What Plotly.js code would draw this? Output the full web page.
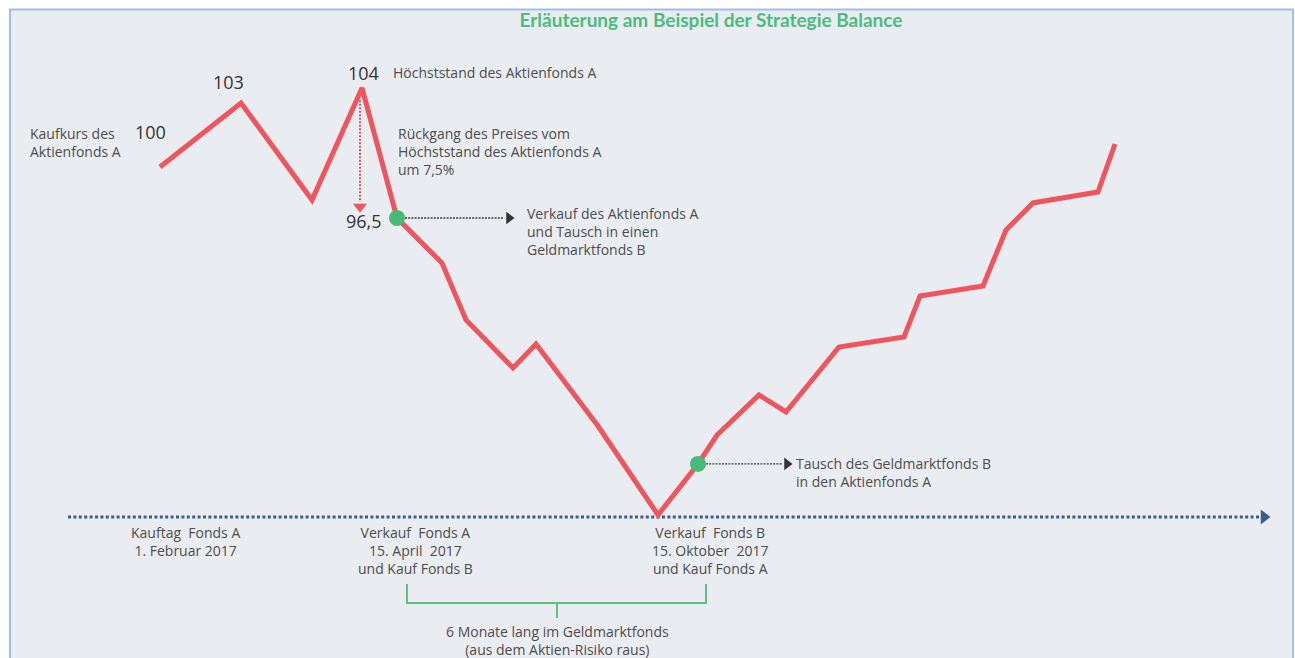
<!DOCTYPE html>
<html>
<head>
<meta charset="utf-8">
<script src="https://cdn.plot.ly/plotly-3.0.1.min.js"></script>
<style>html,body{margin:0;padding:0;background:#fff;}#chart{width:1295px;height:658px;}</style>
</head>
<body>
<div id="chart"></div>
<script>
// Illustrative time steps (arbitrary units) and fund price of Aktienfonds A
const timeSteps = [0, 8.1, 15.2, 20.2, 23.7, 28.2, 30.6, 35.3, 37.6, 43.8, 49.8, 53.8, 55.7, 59.9, 62.6, 67.9, 74.4, 76.0, 82.3, 84.6, 87.3, 93.8, 95.5];
const fundPrice = [99.44, 103.13, 97.54, 104, 96.5, 93.9, 90.62, 87.85, 89.23, 84.5, 79.37, 82.31, 83.98, 86.29, 85.31, 89.06, 89.63, 92.0, 92.58, 95.81, 97.37, 98.0, 100.77];
const sellIndex = 4;   // Verkauf Fonds A (96,5)
const buyIndex = 11;   // Tausch zurück in Fonds A
const peakIndex = 3;

const titleText = 'Erläuterung am Beispiel der Strategie Balance';
const priceLabels = ['100', '103', '104', '96,5'];
const dateLabels = [
  'Kauftag  Fonds A<br>1. Februar 2017',
  'Verkauf  Fonds A<br>15. April  2017<br>und Kauf Fonds B',
  'Verkauf  Fonds B<br>15. Oktober  2017<br>und Kauf Fonds A'
];
const dateLabelX = [2.5, 25.5, 55.0];
const axisLevel = 79.25, axisStart = -9.2, axisEnd = 110.4;
const bracketX = [24.7, 39.7, 54.6];
const bracketY = [75.38, 74.29, 73.42];

const RED = '#f0545c', GREEN = '#46bb79', TXT = '#4d4d4d', NUM = '#333333', AXIS = '#3d5b92';
const FONT = 'Open Sans, sans-serif';

const traces = [];
// dotted time axis
traces.push({x:[axisStart, axisEnd], y:[axisLevel, axisLevel], mode:'lines',
  line:{color:AXIS, width:3, dash:'3px,2.4px'}, hoverinfo:'skip'});
traces.push({x:[axisEnd], y:[axisLevel], mode:'markers',
  marker:{symbol:'triangle-right', size:13, color:AXIS}, hoverinfo:'skip'});
// bracket
traces.push({x:[bracketX[0], bracketX[0], bracketX[1], bracketX[1], bracketX[1], bracketX[2], bracketX[2]],
  y:[bracketY[0], bracketY[1], bracketY[1], bracketY[2], bracketY[1], bracketY[1], bracketY[0]],
  mode:'lines', line:{color:'#5cc17f', width:2}, hoverinfo:'skip'});
// red vertical dotted arrow (peak -> 96,5)
const vx = timeSteps[peakIndex] - 0.2;
traces.push({x:[vx, vx], y:[fundPrice[peakIndex]-0.7, fundPrice[sellIndex]+1.0], mode:'lines',
  line:{color:RED, width:2, dash:'2px,1.5px'}, hoverinfo:'skip'});
traces.push({x:[vx], y:[fundPrice[sellIndex]+0.65], mode:'markers',
  marker:{symbol:'triangle-down', size:12, color:RED}, hoverinfo:'skip'});
// black dotted arrows from green dots
function hArrow(i, tipX){
  traces.push({x:[timeSteps[i]+0.8, tipX-1.0], y:[fundPrice[i], fundPrice[i]], mode:'lines',
    line:{color:'#3a3a3a', width:1.3, dash:'2px,1.2px'}, hoverinfo:'skip'});
  traces.push({x:[tipX-0.5], y:[fundPrice[i]], mode:'markers',
    marker:{symbol:'triangle-right', size:11, color:'#333'}, hoverinfo:'skip'});
}
hArrow(sellIndex, 35.4);
hArrow(buyIndex, 63.2);
// price line
traces.push({x:timeSteps, y:fundPrice, mode:'lines', line:{color:RED, width:5, shape:'linear'},
  hoverinfo:'skip'});
// green dots
traces.push({x:[timeSteps[sellIndex], timeSteps[buyIndex]], y:[fundPrice[sellIndex], fundPrice[buyIndex]],
  mode:'markers', marker:{color:GREEN, size:16}, hoverinfo:'skip'});

function ann(text, x, y, xa, opts){
  return Object.assign({text:text, x:x, y:y, xref:'x', yref:'y', xanchor:xa||'left', yanchor:'middle',
    showarrow:false, align:(xa==='center'?'center':'left'), font:{family:FONT, size:14, color:TXT}}, opts||{});
}
const annotations = [
  ann('Kaufkurs des<br>Aktienfonds A', -13.2, 100.88, 'left'),
  ann(priceLabels[0], -1.0, 101.46, 'center', {font:{family:FONT, size:18, color:NUM}}),
  ann(priceLabels[1], 6.8, 104.35, 'center', {font:{family:FONT, size:18, color:NUM}}),
  ann(priceLabels[2], 20.3, 104.87, 'center', {font:{family:FONT, size:18, color:NUM}}),
  ann('Höchststand des Aktienfonds A', 23.1, 104.87, 'left'),
  ann('Rückgang des Preises vom<br>Höchststand des Aktienfonds A<br>um 7,5%', 23.6, 100.31, 'left'),
  ann(priceLabels[3], 22.4, 96.33, 'right', {font:{family:FONT, size:18, color:NUM}}),
  ann('Verkauf des Aktienfonds A<br>und Tausch in einen<br>Geldmarktfonds B', 36.5, 95.75, 'left'),
  ann('Tausch des Geldmarktfonds B<br>in den Aktienfonds A', 63.4, 81.79, 'left'),
  ann(dateLabels[0], dateLabelX[0], 77.84, 'center'),
  ann(dateLabels[1], dateLabelX[1], 77.29, 'center'),
  ann(dateLabels[2], dateLabelX[2], 77.29, 'center'),
  ann('6 Monate lang im Geldmarktfonds<br>(aus dem Aktien-Risiko raus)', bracketX[1], 72.10, 'center')
];

const layout = {
  width:1295, height:658,
  margin:{l:0, r:0, t:0, b:0},
  paper_bgcolor:'#ffffff', plot_bgcolor:'rgba(0,0,0,0)',
  showlegend:false,
  title:{text:titleText, x:711/1295, xanchor:'center', y:1-20/658, yanchor:'middle',
    font:{family:'Lato, sans-serif', size:19, color:'#4cbc7e', weight:'bold'}},
  xaxis:{range:[-16, 113.5], visible:false, fixedrange:true},
  yaxis:{range:[71.115, 109.077], visible:false, fixedrange:true},
  shapes:[{type:'rect', xref:'paper', yref:'paper', x0:10/1295, x1:1293/1295, y0:-0.05, y1:1-9.5/658,
    fillcolor:'#e9ecf1', line:{color:'#a3bde6', width:2}, layer:'below'}],
  annotations:annotations
};
Plotly.newPlot('chart', traces, layout, {displayModeBar:false, staticPlot:true});
</script>
</body>
</html>
